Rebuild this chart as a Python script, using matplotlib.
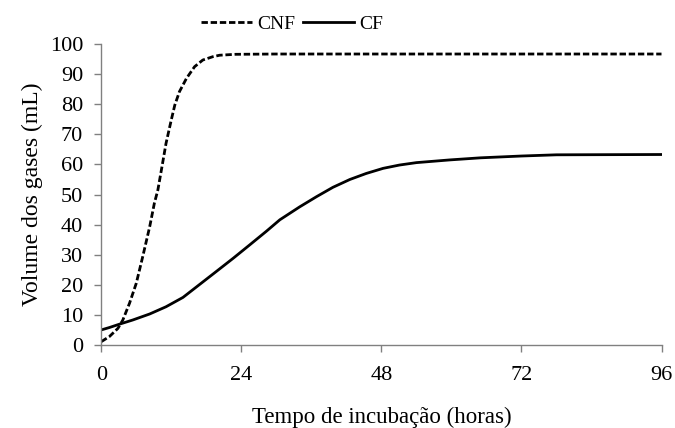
import matplotlib
matplotlib.use("Agg")
import matplotlib.pyplot as plt

plt.rcParams['font.family'] = ['Liberation Serif', 'DejaVu Serif']

# values
horas_cnf = [0, 1.4, 2.85, 3.7, 4.85, 6.0, 7.1, 8.3, 9.1, 9.7, 10.3, 11.1, 12.0, 12.6,
             13.4, 14.6, 16.0, 17.4, 19.1, 20.3, 23, 30, 48, 72, 96]
cnf = [1.1, 2.8, 5.5, 8.3, 13.9, 20.5, 29.3, 39.3, 47.1, 51.5, 58.1, 67.0, 74.8, 79.7,
       84.2, 88.6, 92.5, 94.7, 95.8, 96.3, 96.6, 96.7, 96.7, 96.7, 96.7]

horas_cf = [0, 1.4, 3.1, 5.4, 8.3, 11.1, 14.0, 16.85, 19.7, 22.6, 25.4, 28.3, 30.6, 34.0,
            36.9, 39.7, 42.6, 45.4, 48.3, 51.1, 54, 59.7, 65, 72, 78, 96]
cf = [5.0, 5.8, 6.9, 8.3, 10.3, 12.7, 15.8, 20.1, 24.4, 28.8, 33.2, 37.8, 41.6, 45.9,
      49.3, 52.4, 55.0, 57.0, 58.7, 59.8, 60.6, 61.5, 62.2, 62.8, 63.2, 63.3]

x_ticks = [0, 24, 48, 72, 96]
y_ticks = list(range(0, 101, 10))

fig = plt.figure(figsize=(6.75, 4.28), dpi=100)
ax = fig.add_axes([0.150, 0.194, 0.830, 0.703])

ax.plot(horas_cnf, cnf, color='black', lw=2, ls=(0, (2.3, 1.0)), label='CNF')
ax.plot(horas_cf, cf, color='black', lw=2, label='CF')

ax.set_xlim(0, 96)
ax.set_ylim(0, 100)
ax.set_xticks(x_ticks)
ax.set_yticks(y_ticks)
ax.tick_params(labelsize=16, color='#808080', length=5, width=1)
ax.tick_params(axis='x', pad=10)
ax.tick_params(axis='y', pad=8)

for s in ['top', 'right']:
    ax.spines[s].set_visible(False)
for s in ['left', 'bottom']:
    ax.spines[s].set_color('#808080')
    ax.spines[s].set_linewidth(1)

ax.set_xlabel('Tempo de incubação (horas)', fontsize=16.5, labelpad=16)
ax.set_ylabel('Volume dos gases (mL)', fontsize=17, labelpad=5)

fig.legend(loc='center', bbox_to_anchor=(0.433, 0.943), ncol=2, frameon=False,
           fontsize=14, handlelength=2.6, columnspacing=0.4, handletextpad=0.3)

fig.savefig('out.png', dpi=100)
